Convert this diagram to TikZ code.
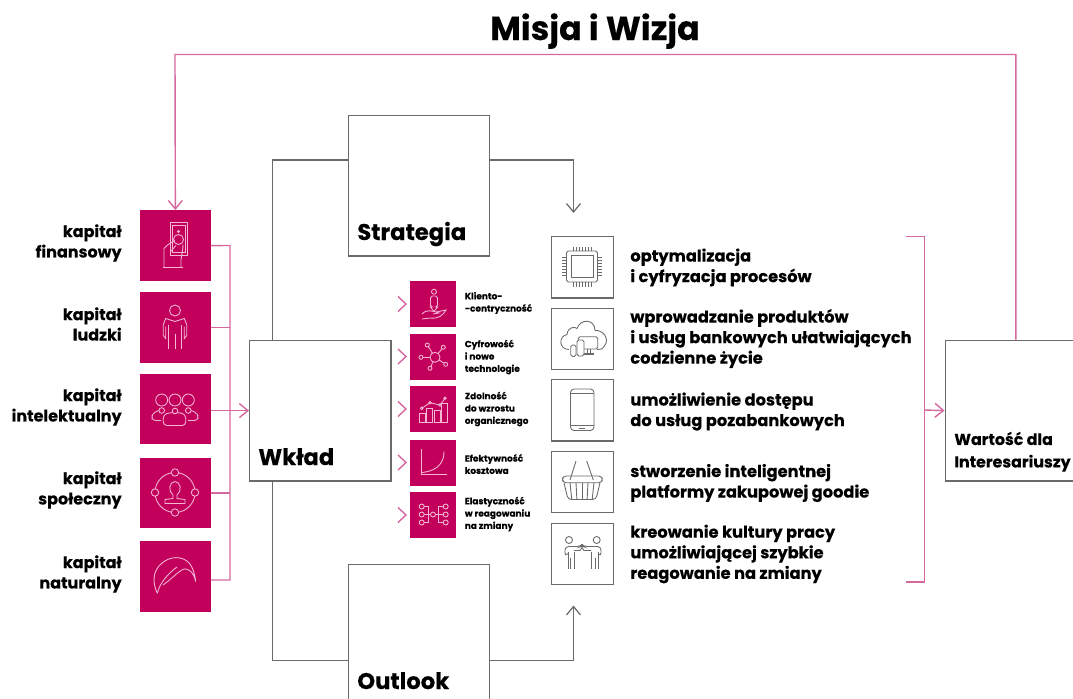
\documentclass[tikz,border=0pt]{standalone}
\usepackage{fontspec}
\setmainfont{Poppins}[BoldFeatures={FakeBold=0.25}]
\usetikzlibrary{positioning,calc,arrows.meta}
\definecolor{crimson}{HTML}{C2005B}
\definecolor{rosepink}{HTML}{D668A0}
\definecolor{rosetint}{HTML}{F3B6D3}
\definecolor{linegrey}{HTML}{6A6A6A}
\tikzset{>={Straight Barb[length=1.7mm,width=2.8mm]}}
\tikzset{
  bigbox/.style={draw=linegrey,line width=0.7pt,minimum width=2.83cm,minimum height=2.82cm,anchor=north west,inner sep=0pt},
  capbox/.style={fill=crimson,minimum width=1.42cm,minimum height=1.41cm,anchor=north west,inner sep=0pt},
  midbox/.style={fill=crimson,minimum width=0.92cm,minimum height=0.92cm,anchor=north west,inner sep=0pt},
  valbox/.style={draw=linegrey,line width=0.7pt,minimum width=1.24cm,minimum height=1.23cm,anchor=north west,inner sep=0pt},
  caplabel/.style={anchor=east,align=right,inner sep=0pt,font=\fontsize{9.1}{11.6}\selectfont\bfseries},
  vallabel/.style={anchor=west,align=left,inner sep=0pt,font=\fontsize{9.25}{11.7}\selectfont\bfseries},
  midlabel/.style={anchor=west,align=left,inner sep=0pt,font=\fontsize{5.1}{7}\selectfont\bfseries},
  boxlabel/.style={anchor=base west,inner sep=0pt,font=\fontsize{12.9}{15}\selectfont\bfseries},
  greyline/.style={draw=linegrey,line width=0.7pt},
  pinkline/.style={draw=rosepink,line width=0.8pt},
  iconline/.style={draw=rosetint,line width=0.5pt},
  icongrey/.style={draw=linegrey,line width=0.5pt},
}
\begin{document}
\begin{tikzpicture}[x=0.02cm,y=-0.02cm]
\useasboundingbox (0,0) rectangle (1073,698);
\node[anchor=base,inner sep=0pt,font=\fontsize{19}{22}\selectfont\bfseries] (title) at (595,40) {Misja i Wizja};
\node[bigbox] (strategia) at (347.5,114.5) {};
\node[bigbox] (wklad) at (249,339.5) {};
\node[bigbox] (outlook) at (347.5,564) {};
\node[bigbox] (wartosc) at (944.5,339.5) {};
\node[boxlabel] (strategiaL) at (357,240) {Strategia};
\node[boxlabel] (wkladL) at (258,465) {Wkład};
\node[boxlabel] (outlookL) at (357,689) {Outlook};
\node[anchor=south west,align=left,inner sep=0pt,font=\fontsize{9}{12.8}\selectfont\bfseries] (wartoscL) at (954,472) {Wartość dla\\Interesariuszy};
\node[capbox] (capfin) at (139.5,210) {};
\node[capbox] (capludz) at (139.5,292) {};
\node[capbox] (capint) at (139.5,373.5) {};
\node[capbox] (capspol) at (139.5,457.5) {};
\node[capbox] (capnat) at (139.5,541) {};
\node[caplabel] (capfinL) at (122,243) {kapitał\\finansowy};
\node[caplabel] (capludzL) at (122,324) {kapitał\\ludzki};
\node[caplabel] (capintL) at (122,407) {kapitał\\intelektualny};
\node[caplabel] (capspolL) at (122,490) {kapitał\\społeczny};
\node[caplabel] (capnatL) at (122,574) {kapitał\\naturalny};
\node[midbox] (midA) at (410,281) {};
\node[midbox] (midB) at (410,333.5) {};
\node[midbox] (midC) at (410,386) {};
\node[midbox] (midD) at (410,439.5) {};
\node[midbox] (midE) at (410,492) {};
\node[midlabel] (midAL) at (464.5,303) {Kliento-\\-centryczność};
\node[midlabel] (midBL) at (464.5,357) {Cyfrowość\\i nowe\\technologie};
\node[midlabel] (midCL) at (464.5,409) {Zdolność\\do wzrostu\\organicznego};
\node[midlabel] (midDL) at (464.5,464) {Efektywność\\kosztowa};
\node[midlabel] (midEL) at (464.5,514) {Elastyczność\\w reagowaniu\\na zmiany};
\node[valbox] (valA) at (551,236) {};
\node[valbox] (valB) at (551,307.5) {};
\node[valbox] (valC) at (551,379) {};
\node[valbox] (valD) at (551,450.5) {};
\node[valbox] (valE) at (551,522.5) {};
\node[vallabel] (valAL) at (630,267.5) {optymalizacja\\i cyfryzacja procesów};
\node[vallabel] (valBL) at (630,338.5) {wprowadzanie produktów\\i usług bankowych ułatwiających\\codzienne życie};
\node[vallabel] (valCL) at (630,411.5) {umożliwienie dostępu\\do usług pozabankowych};
\node[vallabel] (valDL) at (630,483) {stworzenie inteligentnej\\platformy zakupowej goodie};
\node[vallabel] (valEL) at (630,554) {kreowanie kultury pracy\\umożliwiającej szybkie\\reagowanie na zmiany};
\coordinate (busT) at (230,245.5);
\coordinate (busB) at (230,580);
\coordinate (brackT) at (924.5,236.5);
\coordinate (brackB) at (924.5,582);
\coordinate (brackM) at (924.5,410);
\coordinate (stratJ) at (272.5,160);
\coordinate (outJ) at (272.5,660.5);
\coordinate (stratTip) at (573.5,213);
\coordinate (outTip) at (573.5,605.5);
\coordinate (topL) at (175,54.5);
\draw[greyline] (stratJ -| strategia.west) -- (stratJ) -- (stratJ |- wklad.north);
\draw[greyline,->] (stratJ -| strategia.east) -- (stratJ -| stratTip) -- (stratTip);
\draw[greyline] (outJ -| outlook.west) -- (outJ) -- (outJ |- wklad.south);
\draw[greyline,->] (outJ -| outlook.east) -- (outJ -| outTip) -- (outTip);
\draw[pinkline,->] (wartosc.north) -- (wartosc.north |- topL) -- (topL) -- (capfin.north);
\draw[pinkline] (capfin.east) -- (busT) -- (busB) -- (capnat.east |- busB);
\draw[pinkline] (capludz.east) -- (capludz.east -| busT);
\draw[pinkline] (capspol.east) -- (capspol.east -| busT);
\draw[pinkline,->] (capint.east |- wklad.west) -- (wklad.west);
\draw[pinkline] (905.5,236.5) -- (brackT) -- (brackB) -- (905.5,582);
\draw[pinkline,->] (brackM) -- (wartosc.west);
\foreach \cy in {304,356.5,409,462.5,515}
  \draw[pinkline] (398,\cy-7.5) -- (406,\cy) -- (398,\cy+7.5);
\begin{scope}[shift={(175,245.5)}]
\draw[iconline] (-5,-23) rectangle (12.7,9.5);
\draw[iconline] (-2.5,-20) rectangle (10,7);
\draw[iconline] (3.5,-14) circle[radius=1];
\draw[iconline] (3.5,-6) circle[radius=5];
\draw[iconline] (-12,22) -- (8,22);
\draw[iconline] (-11,22) -- (-11,3) .. controls (-7,-2) and (-3,-3) .. (0,-5);
\draw[iconline] (-4,6) .. controls (-2,2) and (0,2) .. (1,0);
\draw[iconline] (6,22) -- (6,14) .. controls (7,8) and (8,4) .. (8,-1);
\end{scope}
\begin{scope}[shift={(175,327.5)}]
\draw[iconline] (0,-17) circle[radius=5.5];
\draw[iconline] (-9.3,-1) -- (-9.3,11) -- (-11.7,8) -- (-11.7,-3) -- (-9.3,-9) -- (0,-6) -- (9.3,-9) -- (11.7,-3) -- (11.7,8) -- (9.3,11) -- (9.3,-1);
\draw[iconline] (-6.7,-3) -- (-6.7,21);
\draw[iconline] (0,6) -- (0,21);
\draw[iconline] (6.7,-3) -- (6.7,21);
\end{scope}
\begin{scope}[shift={(175,408.5)}]
\foreach \hx in {-13.3,0,13.3}
  \draw[iconline] (\hx,-8.5) circle[radius=6];
\draw[iconline,rounded corners=2pt] (-11.7,17) -- (-11.7,6) -- (-4,4) -- (4,4) -- (10.7,6) -- (10.7,17) -- cycle;
\draw[iconline,rounded corners=2pt] (-14,12) -- (-23,12) -- (-23,5) -- (-14,1);
\draw[iconline,rounded corners=2pt] (13,12) -- (23,12) -- (23,5) -- (14,1);
\foreach \hx/\hy in {-13.3/2,0/2.5,13.3/2}
  \filldraw[iconline,fill=crimson] (\hx,\hy) circle[radius=2.8];
\end{scope}
\begin{scope}[shift={(175,492.5)}]
\draw[iconline] (0,0) circle[radius=20];
\foreach \sx/\sy in {0/-20,20/0,0/20,-20/0}
  \filldraw[iconline,fill=crimson] (\sx,\sy) circle[radius=3.7];
\draw[iconline] (-2,2.5) .. controls (-7,-1) and (-6,-11) .. (0,-11) .. controls (6,-11) and (7,-1) .. (2,2.5) -- (2,6) -- (10,7) -- (10,11) -- (-10,11) -- (-10,7) -- (-2,6) -- cycle;
\end{scope}
\begin{scope}[shift={(175,576)}]
\draw[iconline] (-17.7,17.3) .. controls (-23,6) and (-22,-5) .. (-14,-12) .. controls (-6,-20) and (8,-21) .. (15,-12) .. controls (19,-6) and (20,0) .. (20.7,5.7) .. controls (19,-2) and (16,-6) .. (11,-7) .. controls (6,-8) and (-2,2) .. (-12,9);
\draw[iconline] (-17.7,17.3) .. controls (-15,6) and (-6,-3) .. (2,-9);
\end{scope}
\begin{scope}[shift={(433,304)}]
\draw[iconline] (1,-12.3) circle[radius=2.5];
\draw[iconline,rounded corners=1pt] (-2.5,3) -- (-2.5,-8) -- (4.5,-8) -- (4.5,3) -- (3,3) -- (3,7) -- (-1,7) -- (-1,3) -- cycle;
\draw[iconline] (-11,10) .. controls (-6,5) and (-2,7) .. (3,8) -- (6,9) -- (0,10);
\draw[iconline] (3,8) -- (13,6) .. controls (10,11) and (6,15) .. (-3,14) -- (-11,15);
\end{scope}
\begin{scope}[shift={(433,356.5)}]
\foreach \tx/\ty in {-5.7/-11.5,10.3/-9.2,-12/0.8,12.7/7.8,-3/11.8}
  \draw[iconline] (2,0.8) -- (\tx,\ty);
\foreach \tx/\ty in {-5.7/-11.5,10.3/-9.2,-12/0.8,12.7/7.8,-3/11.8}
  \filldraw[iconline,fill=crimson] (\tx,\ty) circle[radius=2];
\filldraw[iconline,fill=crimson] (2,0.8) circle[radius=5];
\end{scope}
\begin{scope}[shift={(433,409)}]
\draw[iconline] (-13.7,4.3) rectangle (-8,13.7);
\draw[iconline] (-6.3,-0.7) rectangle (-0.7,13.7);
\draw[iconline] (1,1) rectangle (7,13.7);
\draw[iconline] (8,-5.7) rectangle (14.7,13.7);
\draw[iconline] (-11.3,-0.7) -- (-3,-6.3) -- (7,-4) -- (12,-10.7);
\foreach \dx/\dy in {-11.3/-0.7,-3/-6.3,7/-4,12/-10.7}
  \filldraw[iconline,fill=crimson] (\dx,\dy) circle[radius=1.3];
\end{scope}
\begin{scope}[shift={(433,462.5)}]
\draw[iconline] (-12,-14) -- (-12,11.5) -- (13.7,11.5);
\draw[iconline] (-11,10) .. controls (7,8) and (11,-2) .. (11,-11);
\end{scope}
\begin{scope}[shift={(433,514.5)}]
\draw[iconline] (-11.3,-8) -- (-5,-8) -- (-5,8) -- (-11.3,8);
\draw[iconline] (-11.3,0) -- (12.7,0);
\draw[iconline] (12.7,-8) -- (5,-8) -- (5,8) -- (12.7,8);
\foreach \cy in {-8,0,8}
  \filldraw[iconline,fill=crimson] (-11.3,\cy) circle[radius=2.5];
\foreach \cy in {-8,0,8}
  \filldraw[iconline,fill=crimson] (12.7,\cy) circle[radius=2.5];
\filldraw[iconline,fill=crimson] (0,0) circle[radius=2.5];
\end{scope}
\begin{scope}[shift={(582,266.5)}]
\draw[icongrey,rounded corners=1pt] (-15.5,-15.5) rectangle (15.5,15.5);
\draw[icongrey] (-11,-11) rectangle (11,11);
\foreach \px in {-9,-6,-3,0,3,6,9} {
  \draw[icongrey] (\px,-15.5) -- (\px,-20);
  \draw[icongrey] (\px,15.5) -- (\px,20);
  \draw[icongrey] (-15.5,\px) -- (-20,\px);
  \draw[icongrey] (15.5,\px) -- (20,\px);
}
\end{scope}
\begin{scope}[shift={(582,338.5)}]
\draw[icongrey] (-13,11) .. controls (-23,11) and (-24,-2) .. (-15,-4) .. controls (-14,-12) and (-7,-12) .. (-5,-10) .. controls (-2,-20) and (13,-20) .. (13,-8) .. controls (20,-9) and (29,0) .. (22,8) .. controls (20,11) and (18,11) .. (15,11);
\draw[icongrey,rounded corners=1pt] (-3.7,-1.8) rectangle (15.7,10.5);
\draw[icongrey] (5,10.5) -- (5,14) (8,10.5) -- (8,14) (2,16) -- (11,16) -- (11,14.5) -- (2,14.5) -- cycle;
\filldraw[icongrey,fill=white,rounded corners=1pt] (-5,1.5) rectangle (2,17.5);
\filldraw[icongrey,fill=white,rounded corners=1pt] (-11.3,6.5) rectangle (-6,18);
\end{scope}
\begin{scope}[shift={(582,410)}]
\draw[icongrey,rounded corners=2pt] (-11.5,-21) rectangle (12,20.5);
\draw[icongrey] (-11.5,-16.5) -- (12,-16.5);
\draw[icongrey] (-11.5,15) -- (12,15);
\draw[icongrey] (-3,18) -- (3,18);
\end{scope}
\begin{scope}[shift={(582,481.5)}]
\draw[icongrey] (-12,-1.5) -- (-6,-20.5);
\draw[icongrey] (11.3,-1.5) -- (4.7,-20.5);
\draw[icongrey,rounded corners=2pt] (-19.5,-5.5) rectangle (20.3,1.2);
\draw[icongrey,rounded corners=2pt] (-18,1.2) -- (-14,18) -- (14,18) -- (18,1.2);
\foreach \bx in {-12,-6,0,6,12}
  \draw[icongrey] (\bx,1.2) -- (0.85*\bx,18);
\end{scope}
\begin{scope}[shift={(582,553.5)}]
\draw[icongrey] (-13,-13.5) circle[radius=3.5];
\draw[icongrey] (14.7,-13.5) circle[radius=3.5];
\draw[icongrey,rounded corners=2pt] (-14,0) -- (-17,3) -- (-17,-7) -- (-2,-7) -- (0,-8.5) -- (2,-7) -- (19,-7) -- (19,3) -- (16,0);
\draw[icongrey] (-14,-2) -- (-14,15);
\draw[icongrey] (-12,4) -- (-12,15);
\draw[icongrey] (-8,-2) -- (-8,15);
\draw[icongrey] (-8,-3) -- (-2,-3) -- (0,-6) -- (2,-3) -- (9,-3);
\draw[icongrey] (9,-2) -- (9,15);
\draw[icongrey] (13,4) -- (13,15);
\draw[icongrey] (16,-2) -- (16,15);
\end{scope}
\end{tikzpicture}
\end{document}
